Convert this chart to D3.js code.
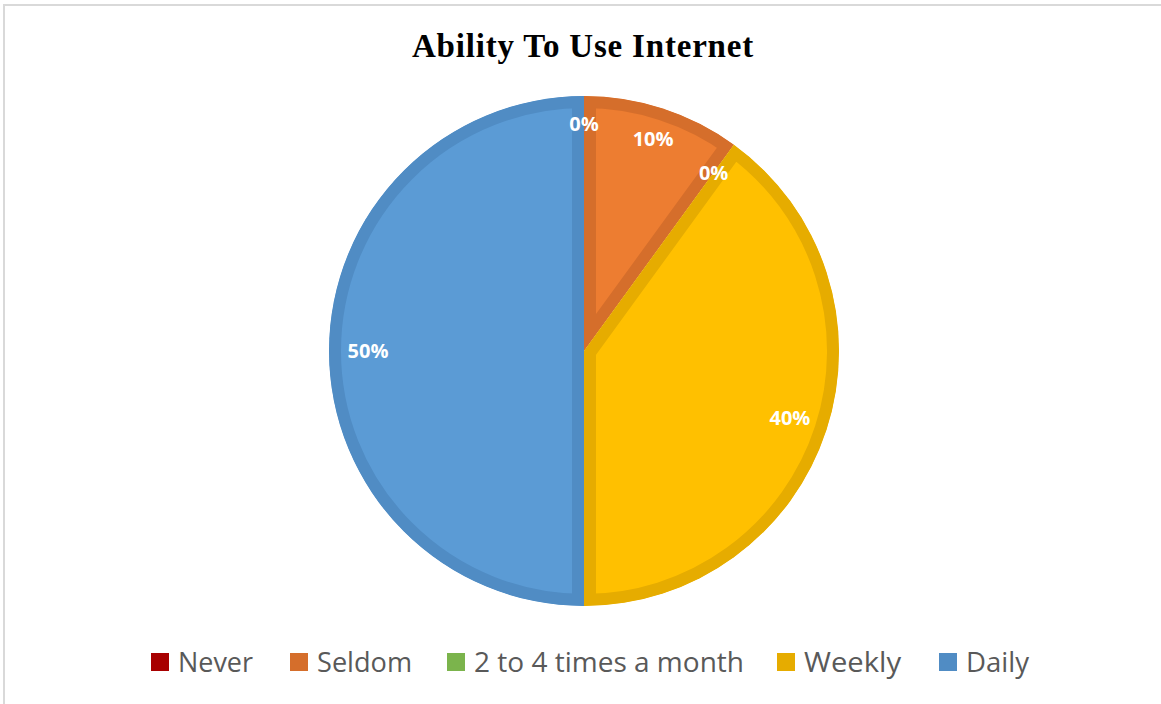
<!DOCTYPE html>
<html>
<head>
<meta charset="utf-8">
<script src="https://cdn.jsdelivr.net/npm/d3@7"></script>
<style>
  html, body { margin: 0; padding: 0; background: #fff; }
  svg { display: block; }
</style>
</head>
<body>
<svg id="chart" width="1161" height="704"></svg>
<script>
// Survey responses: how often respondents are able to use the internet
const categories = ["Never", "Seldom", "2 to 4 times a month", "Weekly", "Daily"];
const shares = [0, 10, 0, 40, 50];
const fillColors = ["#C00000", "#ED7D31", "#70AD47", "#FFC000", "#5B9BD5"];
const edgeColors = ["#A80000", "#D56E2B", "#7BB44C", "#E6AC00", "#508CC4"];
const chartTitle = "Ability To Use Internet";

const svg = d3.select("#chart");
const W = 1161, H = 704;
const defs = svg.append("defs");

// outer frame
svg.append("rect")
  .attr("x", 4).attr("y", 5)
  .attr("width", W + 10).attr("height", H + 10)
  .attr("fill", "#fff")
  .attr("stroke", "#D9D9D9")
  .attr("stroke-width", 2);

svg.append("text")
  .attr("x", 583).attr("y", 57)
  .attr("text-anchor", "middle")
  .attr("font-family", "'Liberation Serif', 'Times New Roman', serif")
  .attr("font-weight", "bold")
  .attr("font-size", 33)
  .attr("letter-spacing", 0.8)
  .attr("fill", "#000")
  .text(chartTitle);

const cx = 584, cy = 351, radius = 255;
const g = svg.append("g").attr("transform", `translate(${cx},${cy})`);

const pie = d3.pie().sort(null).value(d => d.value);
const data = categories.map((c, i) => ({ name: c, value: shares[i], i }));
const arcs = pie(data);
const arc = d3.arc().innerRadius(0).outerRadius(radius);
const drawn = arcs.filter(a => a.data.value > 0);

// each slice keeps its edge band on the inside, so clip the stroke to the slice
defs.selectAll("clipPath")
  .data(drawn)
  .join("clipPath")
  .attr("id", d => "slice-clip-" + d.data.i)
  .append("path")
  .attr("d", arc);

g.selectAll("path.slice")
  .data(drawn)
  .join("path")
  .attr("class", "slice")
  .attr("d", arc)
  .attr("clip-path", d => `url(#slice-clip-${d.data.i})`)
  .attr("fill", d => fillColors[d.data.i])
  .attr("stroke", d => edgeColors[d.data.i])
  .attr("stroke-width", 24)
  .attr("stroke-linejoin", "miter");

// percentage labels at the inside end of each slice; wider labels sit further in
// when the slice points sideways
function labelPos(d) {
  const a = (d.startAngle + d.endAngle) / 2;
  const r = 227 - 11 * Math.abs(Math.sin(a));
  return [Math.sin(a) * r, -Math.cos(a) * r];
}
g.selectAll("text.pct")
  .data(arcs)
  .join("text")
  .attr("class", "pct")
  .attr("x", d => labelPos(d)[0])
  .attr("y", d => labelPos(d)[1])
  .attr("dy", "0.36em")
  .attr("text-anchor", "middle")
  .attr("font-family", "'Open Sans', Lato, sans-serif")
  .attr("font-weight", "bold")
  .attr("font-size", 20)
  .attr("fill", "#fff")
  .text(d => d3.format(".0f")(d.data.value) + "%");

// legend
const legendX = [151, 290, 447, 777, 939];
const legendTextWidth = [75, 95, 270, 97, 63];
const legend = svg.append("g");
const items = legend.selectAll("g.item")
  .data(categories)
  .join("g")
  .attr("class", "item")
  .attr("transform", (d, i) => `translate(${legendX[i]},653)`);

items.append("rect")
  .attr("width", 18).attr("height", 18)
  .attr("fill", (d, i) => edgeColors[i]);

items.append("text")
  .attr("x", 27).attr("y", 19)
  .attr("font-family", "'Open Sans', sans-serif")
  .attr("font-size", 28)
  .attr("textLength", (d, i) => legendTextWidth[i])
  .attr("lengthAdjust", "spacingAndGlyphs")
  .attr("fill", "#595959")
  .text(d => d);
</script>
</body>
</html>
